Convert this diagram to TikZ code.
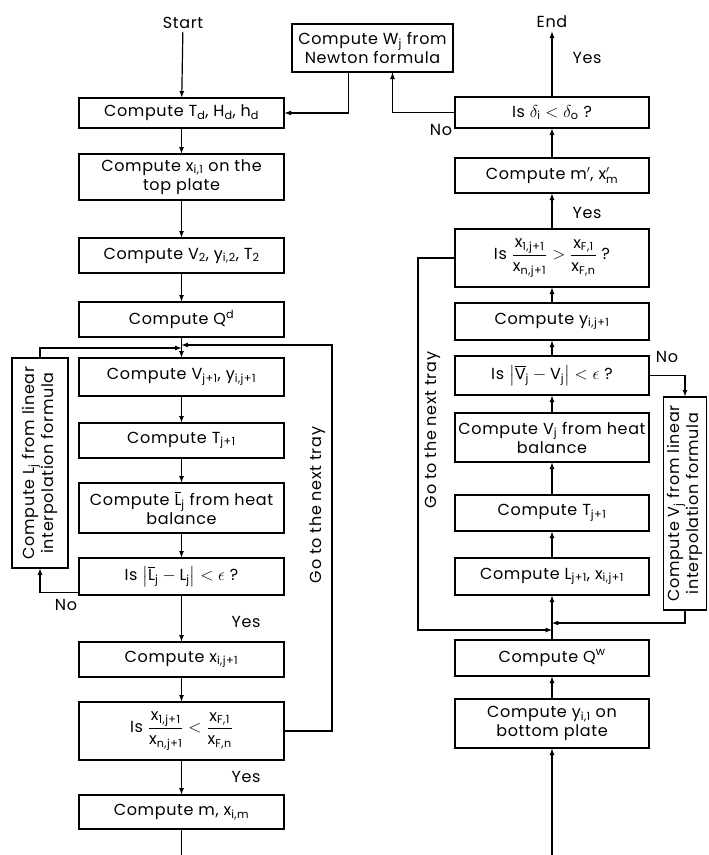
\documentclass[tikz,border=0pt]{standalone}
\usepackage{fontspec}
\setmainfont[LetterSpace=4]{Poppins}
\usepackage{amsmath}
\usetikzlibrary{arrows}
\newcommand{\sm}[2]{#1$_{\text{#2}}$}

\begin{document}
\begin{tikzpicture}[x=1pt, y=-1pt, font=\fontsize{16}{19}\selectfont,
  box/.style={draw, line width=1.2pt, align=center, inner sep=0pt},
  lbox/.style={box, minimum width=205pt},
  rbox/.style={box, minimum width=194pt},
  flow/.style={line width=1.2pt, -latex},
  plain/.style={line width=1.2pt}]
\useasboundingbox (0,0) rectangle (709,855);
%left column
\node (start) at (183,23) {Start};
\node[lbox, minimum height=30pt] (td) at (181.5,113) {Compute \sm{T}{d}, \sm{H}{d}, \sm{h}{d}};
\node[lbox, minimum height=46pt] (x1) at (181.5,177) {Compute \sm{x}{i,1} on the\\top plate};
\node[lbox, minimum height=35pt] (v2) at (181.5,255.5) {Compute \sm{V}{2}, \sm{y}{i,2}, \sm{T}{2}};
\node[lbox, minimum height=35pt] (qd) at (181.5,319.5) {Compute Q$^{\text{d}}$};
\node[lbox, minimum height=38pt] (vj) at (181.5,377) {Compute \sm{V}{j+1}, \sm{y}{i,j+1}};
\node[lbox, minimum height=35pt] (tj) at (181.5,440.5) {Compute \sm{T}{j+1}};
\node[lbox, minimum height=50pt] (lbar) at (181.5,508) {Compute $\overline{\text{L}}_{\text{j}}$ from heat\\balance};
\node[lbox, minimum height=37pt] (isl) at (181.5,576.5) {Is $\bigl|\overline{\text{L}}_{\text{j}}-\text{L}_{\text{j}}\bigr| < \epsilon$ ?};
\node[lbox, minimum height=35pt] (xij) at (181.5,659.5) {Compute \sm{x}{i,j+1}};
\node[lbox, minimum height=58pt] (ratl) at (181.5,731) {Is $\dfrac{\text{x}_{\text{1,j+1}}}{\text{x}_{\text{n,j+1}}} < \dfrac{\text{x}_{\text{F,1}}}{\text{x}_{\text{F,n}}}$};
\node[lbox, minimum height=34pt] (mx) at (181.5,812) {Compute m, \sm{x}{i,m}};
\node[box, rotate=90, minimum width=210pt, minimum height=56pt] (linl) at (40,463) {Compute \sm{L}{j} from linear\\interpolation formula};
\node[rotate=90] (gol) at (318,505) {Go to the next tray};
\node (nol) at (66,605) {No};
\node (yes1) at (246,622) {Yes};
\node (yes2) at (246,777) {Yes};
\coordinate (ja) at (181.5,345);
\coordinate (jb) at (181.5,348);
\coordinate (tray1) at (332,345);
\coordinate (lend) at (181.5,855);
%newton
\node[box, minimum width=161pt, minimum height=48pt] (newton) at (372.5,48) {Compute \sm{W}{j} from\\Newton formula};
%right column
\node (end) at (552,22) {End};
\node[rbox, minimum height=31pt] (delta) at (552,112.5) {Is $\delta_{\text{i}} < \delta_{\text{o}}$ ?};
\node[rbox, minimum height=35pt] (mp) at (552,175.5) {Compute m$'$, x$'_{\text{m}}$};
\node[rbox, minimum height=58pt] (ratr) at (552,258) {Is $\dfrac{\text{x}_{\text{1,j+1}}}{\text{x}_{\text{n,j+1}}} > \dfrac{\text{x}_{\text{F,1}}}{\text{x}_{\text{F,n}}}$ ?};
\node[rbox, minimum height=37pt] (yj) at (552,321.5) {Compute \sm{y}{i,j+1}};
\node[rbox, minimum height=39pt] (isv) at (552,375.5) {Is $\bigl|\overline{\text{V}}_{\text{j}}-\text{V}_{\text{j}}\bigr| < \epsilon$ ?};
\node[rbox, minimum height=49pt] (vheat) at (552,437.5) {Compute \sm{V}{j} from heat\\balance};
\node[rbox, minimum height=36pt] (tr) at (552,513) {Compute \sm{T}{j+1}};
\node[rbox, minimum height=37pt] (lj) at (552,576.5) {Compute \sm{L}{j+1}, \sm{x}{i,j+1}};
\node[rbox, minimum height=36pt] (qw) at (552,658) {Compute Q$^{\text{w}}$};
\node[rbox, minimum height=49pt] (yi1) at (552,723.5) {Compute \sm{y}{i,1} on\\bottom plate};
\node[box, rotate=90, minimum width=213pt, minimum height=43pt] (linr) at (685,503.5) {Compute \sm{V}{j} from linear\\interpolation formula};
\node[rotate=90] (gor) at (433,430) {Go to the next tray};
\node (yes3) at (587,58) {Yes};
\node (yes4) at (587,213) {Yes};
\node (nod) at (441,130) {No};
\node (nov) at (667,357) {No};
\coordinate (jc) at (552,630);
\coordinate (jd) at (552,623);
\coordinate (tray2) at (418,630);
\coordinate (rstart) at (552,855);

%left flow
\draw[flow] (start) -- (td);
\draw[flow] (td) -- (x1);
\draw[flow] (x1) -- (v2);
\draw[flow] (v2) -- (qd);
\draw[flow] (qd) -- (vj);
\draw[flow] (vj) -- (tj);
\draw[flow] (tj) -- (lbar);
\draw[flow] (lbar) -- (isl);
\draw[flow] (isl) -- (xij);
\draw[flow] (xij) -- (ratl);
\draw[flow] (ratl) -- (mx);
\draw[plain] (mx) -- (lend);
\draw[flow] ([yshift=3pt]isl.south west) -| (linl.west);
\draw[flow] (linl.east) |- (jb);
\draw[flow] (ratl.east) -| (tray1) -- (ja);
%newton loop
\draw[flow] (delta.west) -| ([xshift=20pt]newton.south);
\draw[flow] ([xshift=-24pt]newton.south) |- (td.east);
%right flow
\draw[flow] (rstart) -- (yi1);
\draw[flow] (yi1) -- (qw);
\draw[flow] (qw) -- (lj);
\draw[flow] (lj) -- (tr);
\draw[flow] (tr) -- (vheat);
\draw[flow] (vheat) -- (isv);
\draw[flow] (isv) -- (yj);
\draw[flow] (yj) -- (ratr);
\draw[flow] (ratr) -- (mp);
\draw[flow] (mp) -- (delta);
\draw[flow] (delta) -- (end);
\draw[flow] (isv.east) -| (linr.east);
\draw[flow] (linr.west) |- (jd);
\draw[flow] (ratr.west) -| (tray2) -- (jc);
\end{tikzpicture}
\end{document}
